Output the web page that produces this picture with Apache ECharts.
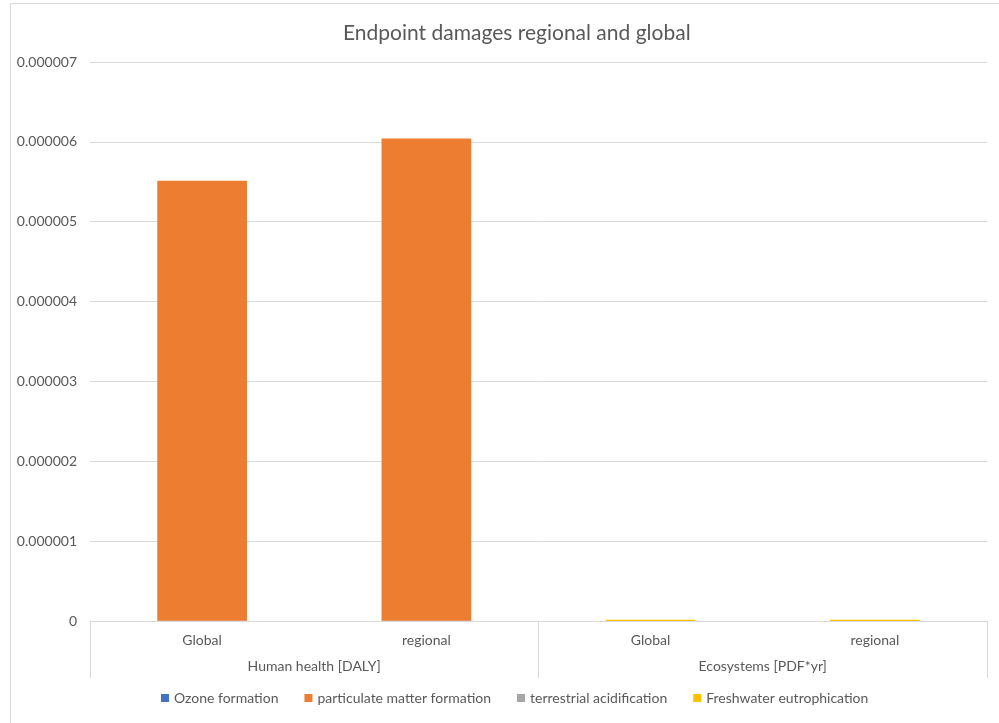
<!DOCTYPE html>
<html>
<head>
<meta charset="utf-8">
<script src="https://cdn.jsdelivr.net/npm/echarts@6/dist/echarts.min.js"></script>
<style>
  html, body { margin: 0; padding: 0; background: #fff; }
  #chart { width: 999px; height: 723px; }
</style>
</head>
<body>
<div id="chart"></div>
<script>
// Sub-categories (inner axis) and their parent groups (outer axis)
const subCategories = ['Global', 'regional', 'Global', 'regional'];
const groupCategories = ['Human health [DALY]', 'Ecosystems [PDF*yr]'];

// Stacked series values, one entry per sub-category
const ozoneFormation = [3e-9, 3e-9, 1e-10, 1e-10];
const particulateMatter = [5.51e-6, 6.04e-6, 0, 0];
const terrestrialAcidification = [0, 0, 2e-10, 2e-10];
const freshwaterEutrophication = [0, 0, 1.5e-8, 1.5e-8];

// Value axis ticks
const yMin = 0;
const yMax = 7e-6;
const yStep = 1e-6;

const FONT = 'Lato, "Open Sans", sans-serif';
const TEXT = '#595959';
const LINE = '#d9d9d9';

const chart = echarts.init(document.getElementById('chart'));

function barSeries(name, data, color) {
  return {
    name: name,
    type: 'bar',
    stack: 'total',
    xAxisIndex: 0,
    data: data,
    barCategoryGap: '60%',
    itemStyle: { color: color },
    emphasis: { disabled: true }
  };
}

chart.setOption({
  animation: false,
  textStyle: { fontFamily: FONT },
  title: {
    text: 'Endpoint damages regional and global',
    left: 338,
    top: 18,
    textStyle: { fontFamily: FONT, fontSize: 21, fontWeight: 'normal', color: TEXT }
  },
  graphic: [{
    type: 'rect',
    z: -1,
    silent: true,
    shape: { x: 10.5, y: 3.5, width: 1000, height: 800 },
    style: { fill: 'none', stroke: LINE, lineWidth: 1 }
  }],
  legend: {
    bottom: 13,
    left: 156,
    itemWidth: 8,
    itemHeight: 8,
    itemGap: 26,
    icon: 'rect',
    textStyle: { fontFamily: FONT, fontSize: 14, color: TEXT },
    data: ['Ozone formation', 'particulate matter formation', 'terrestrial acidification', 'Freshwater eutrophication']
  },
  grid: { left: 90, right: 12, top: 62, bottom: 102, containLabel: false },
  xAxis: [
    {
      type: 'category',
      data: subCategories,
      position: 'bottom',
      axisLine: { lineStyle: { color: LINE } },
      axisTick: { show: false },
      axisLabel: { margin: 12, fontFamily: FONT, fontSize: 14, color: TEXT }
    },
    {
      type: 'category',
      data: groupCategories,
      position: 'bottom',
      offset: 0,
      axisLine: { show: false },
      axisTick: { show: true, length: 57, lineStyle: { color: LINE } },
      axisLabel: { margin: 38, fontFamily: FONT, fontSize: 14, color: TEXT }
    }
  ],
  yAxis: {
    type: 'value',
    min: yMin,
    max: yMax,
    interval: yStep,
    axisLine: { show: false },
    axisTick: { show: false },
    splitLine: { lineStyle: { color: LINE } },
    axisLabel: {
      margin: 13,
      fontFamily: FONT,
      fontSize: 14,
      color: TEXT,
      formatter: function (v) { return v === 0 ? '0' : v.toFixed(6); }
    }
  },
  series: [
    barSeries('Ozone formation', ozoneFormation, '#4472C4'),
    barSeries('particulate matter formation', particulateMatter, '#ED7D31'),
    barSeries('terrestrial acidification', terrestrialAcidification, '#A5A5A5'),
    barSeries('Freshwater eutrophication', freshwaterEutrophication, '#FFC000')
  ]
});
</script>
</body>
</html>
